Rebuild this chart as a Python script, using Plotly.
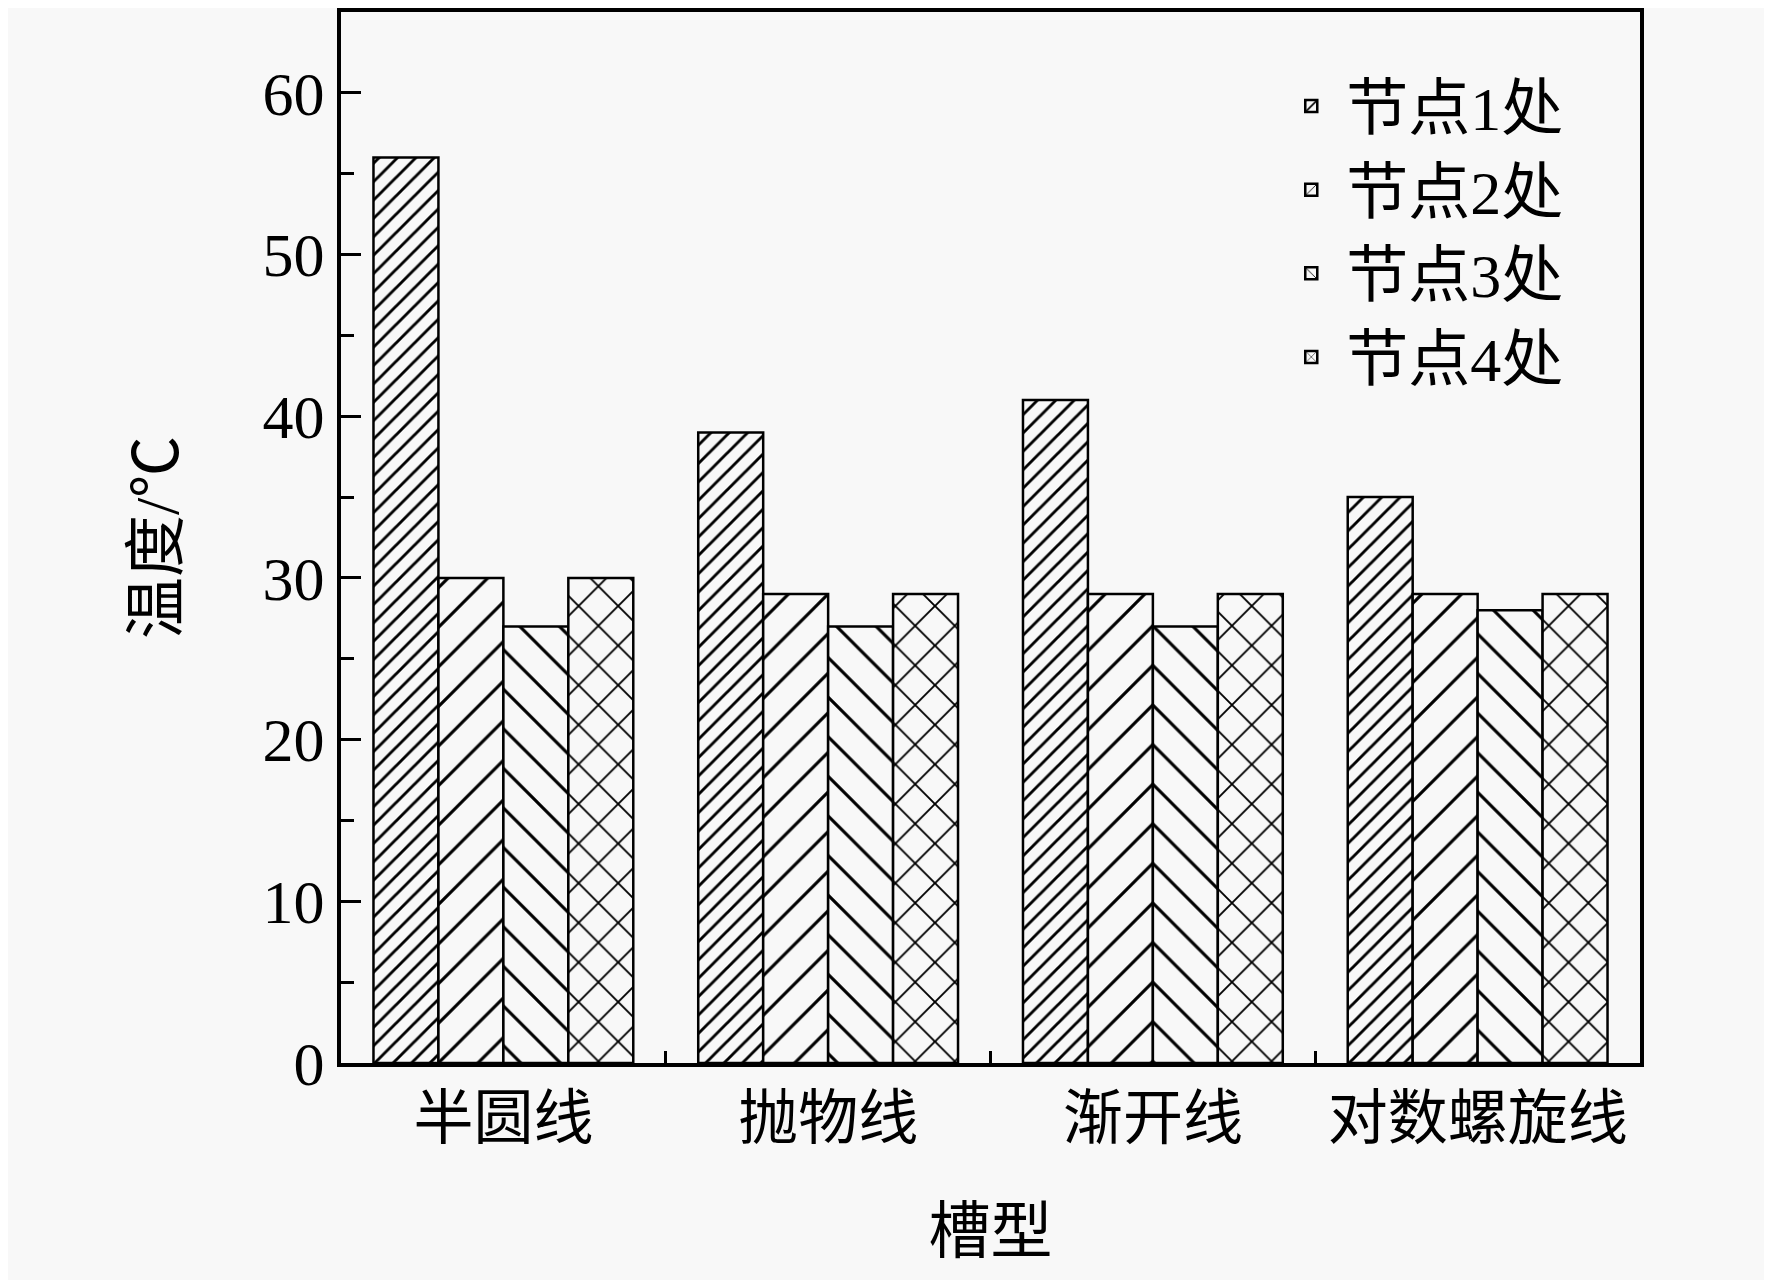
import plotly.graph_objects as go

# groove shapes on the x axis
categories = ['半圆线', '抛物线', '渐开线', '对数螺旋线']

# temperature at each node (deg C)
node1 = [56, 39, 41, 35]
node2 = [30, 29, 29, 29]
node3 = [27, 27, 27, 28]
node4 = [30, 29, 29, 29]

series_names = ['节点1处', '节点2处', '节点3处', '节点4处']

# hatch style per series: shape, tile size, line thickness
hatches = [('/', 13, 0.22), ('/', 28, 0.11), ('\\', 28, 0.11), ('x', 28, 0.13)]

bg = '#f8f8f8'
font_family = 'Liberation Serif, Noto Sans CJK SC, serif'

fig = go.Figure()
for name, vals, (shape, size, solid) in zip(series_names, [node1, node2, node3, node4], hatches):
    fig.add_trace(go.Bar(
        x=categories, y=vals, name=name,
        marker=dict(
            color=bg,
            line=dict(color='black', width=2.5),
            pattern=dict(shape=shape, size=size, solidity=solid,
                         fgcolor='black', bgcolor=bg, fillmode='replace'),
        ),
    ))

fig.update_layout(
    width=1772, height=1280,
    paper_bgcolor=bg, plot_bgcolor=bg,
    font=dict(family=font_family, size=62, color='black'),
    margin=dict(l=333, r=140, t=0, b=225),
    barmode='group', bargap=0.2, bargroupgap=0,
    legend=dict(x=0.72, y=0.955, xanchor='left', yanchor='top',
                bgcolor='rgba(0,0,0,0)', font=dict(size=62),
                tracegroupgap=0, itemwidth=60),
    showlegend=True,
)

fig.update_xaxes(
    showline=True, linecolor='black', linewidth=4, mirror=True,
    ticks='inside', tickson='boundaries', ticklen=12, tickwidth=3, tickcolor='black',
    tickangle=0, tickfont=dict(size=60),
    title=dict(text='槽型', font=dict(size=62), standoff=60),
    showgrid=False,
)
fig.update_yaxes(
    range=[0, 65], dtick=10, tick0=0,
    showline=True, linecolor='black', linewidth=4, mirror=True,
    ticks='inside', ticklen=20, tickwidth=3, tickcolor='black',
    minor=dict(dtick=5, ticks='inside', ticklen=13, tickwidth=3, tickcolor='black'),
    tickfont=dict(size=62),
    title=dict(text='温度/℃', font=dict(size=62), standoff=65),
    showgrid=False, zeroline=False,
)

fig.write_html('out.html')
